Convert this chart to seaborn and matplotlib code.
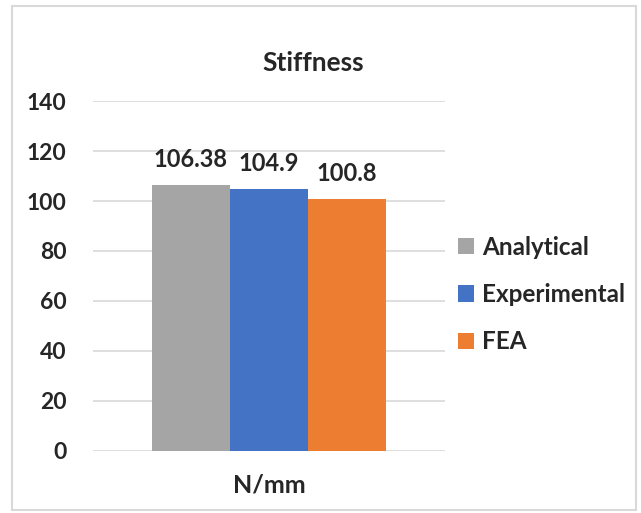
import matplotlib
matplotlib.use("Agg")
import matplotlib.pyplot as plt
import seaborn as sns
import pandas as pd
from matplotlib.patches import Rectangle

# data
category = ["N/mm"]
series = ["Analytical", "Experimental", "FEA"]
values = [106.38, 104.9, 100.8]
value_labels = ["106.38", "104.9", "100.8"]
colors = ["#A5A5A5", "#4472C4", "#ED7D31"]
yticks = [0, 20, 40, 60, 80, 100, 120, 140]

df = pd.DataFrame({"unit": category * len(series), "method": series, "value": values})

sns.set_theme(style="white")
plt.rcParams['font.family'] = ['Lato', 'DejaVu Sans']
plt.rcParams['font.weight'] = 'bold'

fig = plt.figure(figsize=(6.41, 5.13), dpi=100)
ax = fig.add_axes([0.145, 0.1209, 0.549, 0.6822])

sns.barplot(data=df, x="unit", y="value", hue="method", palette=colors,
            width=0.667, gap=0, saturation=1, linewidth=0, ax=ax, legend=True)

for cont, lab in zip(ax.containers, value_labels):
    ax.bar_label(cont, labels=[lab], padding=10, fontsize=17, fontweight='bold')

ax.set_ylim(0, 140)
ax.set_yticks(yticks)
ax.set_xlim(-0.5, 0.5)
ax.grid(axis='y', color='#D9D9D9', linewidth=1.2)
ax.set_axisbelow(True)
for s in ax.spines.values():
    s.set_visible(False)
ax.tick_params(axis='y', length=0, labelsize=16.5, pad=19)
ax.tick_params(axis='x', length=0, labelsize=18, pad=16)
for t in ax.get_xticklabels() + ax.get_yticklabels():
    t.set_fontweight('bold')
ax.set_xlabel("")
ax.set_ylabel("")

fig.text(0.488, 0.877, "Stiffness", fontsize=19, fontweight='bold',
         ha='center', va='center')

leg = ax.legend(loc='center left', bbox_to_anchor=(1.037, 0.447), frameon=False,
                fontsize=17.5, handlelength=0.66, handleheight=0.66,
                handletextpad=0.33, labelspacing=1.0,
                borderaxespad=0, borderpad=0)
for t in leg.get_texts():
    t.set_fontweight('bold')

fig.patches.append(Rectangle((0.019, 0.006), 0.973, 0.982, transform=fig.transFigure,
                             fill=False, edgecolor='#D9D9D9', linewidth=1.5))

fig.savefig("out.png", dpi=100)
